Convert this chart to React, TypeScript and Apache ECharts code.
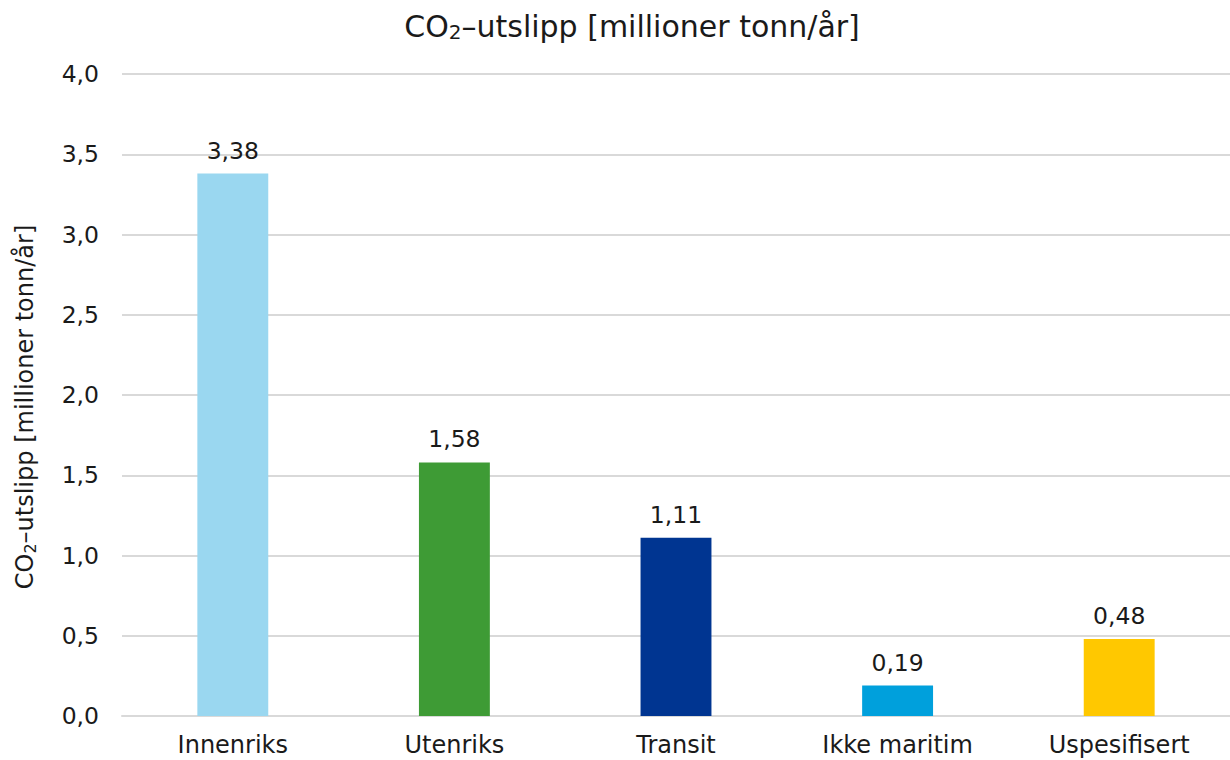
import React, { useEffect, useRef } from "react";
import * as echarts from "echarts";

const categories = ["Innenriks", "Utenriks", "Transit", "Ikke maritim", "Uspesifisert"];
const values = [3.38, 1.58, 1.11, 0.19, 0.48];
const colors = ["#9AD7F0", "#3E9B35", "#003591", "#00A0DC", "#FFC800"];
const yTicks = { min: 0, max: 4, interval: 0.5 };

const FONT = "DejaVu Sans";
const fmt = (v: number, d: number) => v.toFixed(d).replace(".", ",");

export default function App() {
  const ref = useRef<HTMLDivElement>(null);
  useEffect(() => {
    if (!ref.current) return;
    const chart = echarts.init(ref.current, undefined, { renderer: "svg" });
    chart.setOption({
      animation: false,
      backgroundColor: "#ffffff",
      textStyle: { fontFamily: FONT },
      title: {
        text: "CO{sub|2}–utslipp [millioner tonn/år]",
        left: 632,
        textAlign: "center",
        top: 10,
        padding: 0,
        textStyle: {
          fontFamily: FONT,
          fontSize: 30,
          fontWeight: "normal",
          color: "#1a1a1a",
          rich: {
            sub: { fontSize: 20, verticalAlign: "bottom", padding: [12, 0, 0, 0], fontFamily: FONT, color: "#1a1a1a" },
          },
        },
      },
      grid: { left: 122, right: 0, top: 74, bottom: 44, containLabel: false },
      xAxis: {
        type: "category",
        data: categories,
        axisTick: { show: false },
        axisLine: { show: true, lineStyle: { color: "#D9D9D9", width: 2 } },
        axisLabel: { color: "#1a1a1a", fontSize: 24, fontFamily: FONT, margin: 16, lineHeight: 26 },
      },
      yAxis: {
        type: "value",
        min: yTicks.min,
        max: yTicks.max,
        interval: yTicks.interval,
        name: "CO{sub|2}–utslipp [millioner tonn/år]",
        nameLocation: "middle",
        nameGap: 84,
        nameRotate: 90,
        nameTextStyle: {
          fontFamily: FONT,
          fontSize: 24,
          color: "#1a1a1a",
          padding: [0, 24, 0, 0],
          rich: {
            sub: { fontSize: 16, fontFamily: FONT, color: "#1a1a1a", padding: [10, 0, 0, 0] },
          },
        },
        axisLine: { show: false },
        axisTick: { show: false },
        splitLine: { lineStyle: { color: "#D9D9D9", width: 2 } },
        axisLabel: {
          color: "#1a1a1a",
          fontSize: 23.5,
          fontFamily: FONT,
          margin: 23,
          formatter: (v: number) => fmt(v, 1),
        },
      },
      series: [
        {
          type: "bar",
          barWidth: "32%",
          data: values.map((v, i) => ({ value: v, itemStyle: { color: colors[i] } })),
          label: {
            show: true,
            position: "top",
            distance: 11,
            color: "#1a1a1a",
            fontSize: 23.5,
            fontFamily: FONT,
            formatter: (p: any) => fmt(p.value, 2),
          },
        },
      ],
    });
    return () => chart.dispose();
  }, []);
  return <div ref={ref} style={{ width: 1230, height: 760, position: "absolute", left: 0, top: 0 }} />;
}
